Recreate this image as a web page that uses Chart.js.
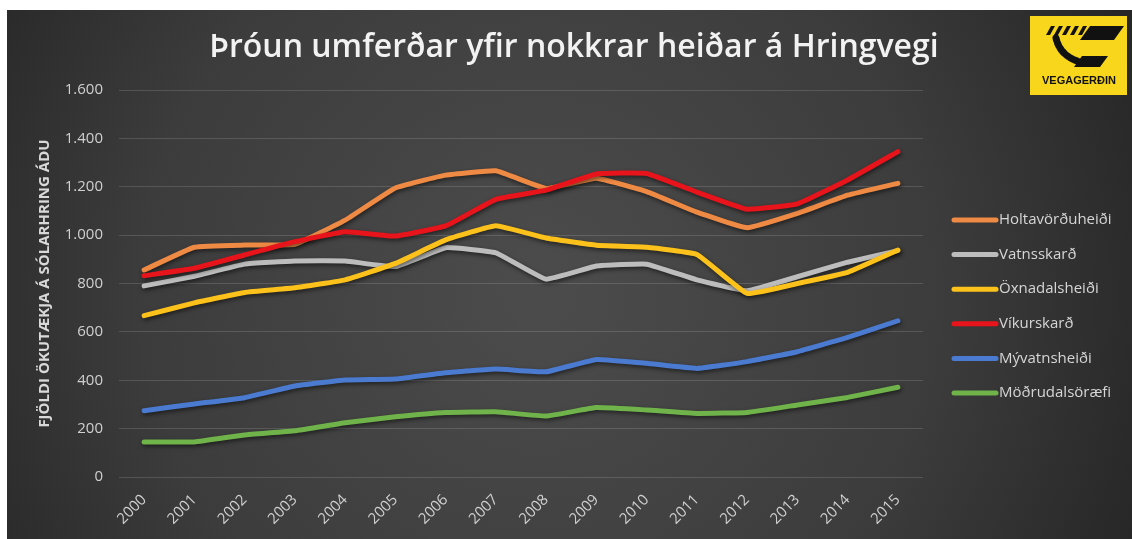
<!DOCTYPE html>
<html>
<head>
<meta charset="utf-8">
<script src="https://cdn.jsdelivr.net/npm/chart.js@4.4.1/dist/chart.umd.min.js"></script>
<style>
  html, body { margin: 0; padding: 0; background: #fff; }
  #wrap { width: 1132px; height: 539px; }
</style>
</head>
<body>
<div id="wrap"><canvas id="trafficChart" width="1132" height="539"></canvas></div>
<script>
const years = ["2000", "2001", "2002", "2003", "2004", "2005", "2006", "2007",
  "2008", "2009", "2010", "2011", "2012", "2013", "2014", "2015"];

// vehicles per day (ÁDU)
const holtavorduheidi = [856, 950, 959, 962, 1062, 1195, 1248, 1266, 1193, 1235, 1180, 1095, 1031, 1090, 1165, 1214];
const vatnsskard = [790, 830, 880, 893, 893, 870, 948, 927, 818, 872, 880, 815, 770, 828, 888, 936];
const oxnadalsheidi = [667, 720, 763, 782, 815, 883, 980, 1039, 988, 958, 950, 920, 759, 800, 846, 938];
const vikurskard = [832, 863, 918, 973, 1014, 996, 1038, 1148, 1186, 1253, 1255, 1178, 1107, 1129, 1228, 1345];
const myvatnsheidi = [274, 302, 328, 376, 401, 405, 431, 446, 435, 486, 470, 449, 477, 518, 577, 646];
const modrudalsoraefi = [145, 145, 174, 191, 224, 249, 267, 270, 252, 287, 277, 263, 267, 298, 329, 371];

const seriesNames = ["Holtavörðuheiði", "Vatnsskarð", "Öxnadalsheiði", "Víkurskarð", "Mývatnsheiði", "Möðrudalsöræfi"];
const seriesColors = ["#ef8a45", "#bdbdbd", "#fcc21b", "#e8141b", "#4a7bd0", "#6fb34a"];
const seriesValues = [holtavorduheidi, vatnsskard, oxnadalsheidi, vikurskard, myvatnsheidi, modrudalsoraefi];

const yTickLabels = ["0", "200", "400", "600", "800", "1.000", "1.200", "1.400", "1.600"];

const chartTitle = "Þróun umferðar yfir nokkrar heiðar á Hringvegi";
const yAxisTitle = "FJÖLDI ÖKUTÆKJA Á SÓLARHRING ÁDU";
const logoText = "VEGAGERÐIN";

// dark panel with lighter middle
const backgroundPlugin = {
  id: "panel",
  beforeDraw(chart) {
    const ctx = chart.ctx;
    ctx.save();
    ctx.fillStyle = "#ffffff";
    ctx.fillRect(0, 0, chart.width, chart.height);
    const g = ctx.createRadialGradient(540, 290, 30, 540, 290, 700);
    g.addColorStop(0, "#4b4b4b");
    g.addColorStop(0.55, "#3c3c3c");
    g.addColorStop(1, "#222222");
    ctx.fillStyle = g;
    ctx.fillRect(7, 10, chart.width - 7, chart.height - 10);
    ctx.restore();
  }
};

// drop shadow under the lines
const shadowPlugin = {
  id: "lineShadow",
  beforeDatasetDraw(chart) {
    const ctx = chart.ctx;
    ctx.save();
    ctx.shadowColor = "rgba(0,0,0,0.55)";
    ctx.shadowBlur = 4;
    ctx.shadowOffsetX = 1;
    ctx.shadowOffsetY = 2;
  },
  afterDatasetDraw(chart) {
    chart.ctx.restore();
  }
};

// legend on the right + logo
const sideLegendPlugin = {
  id: "sideLegend",
  afterDraw(chart) {
    const ctx = chart.ctx;
    ctx.save();
    chart.data.datasets.forEach((ds, i) => {
      const y = 220 + i * 34.6;
      ctx.strokeStyle = ds.borderColor;
      ctx.lineWidth = 5;
      ctx.lineCap = "round";
      ctx.beginPath();
      ctx.moveTo(954, y);
      ctx.lineTo(996, y);
      ctx.stroke();
      ctx.fillStyle = "#d6d6d6";
      ctx.font = "15px 'Open Sans'";
      ctx.textBaseline = "middle";
      ctx.textAlign = "left";
      ctx.fillText(ds.label, 999, y);
    });

    // Vegagerðin logo
    ctx.fillStyle = "#f8d61c";
    ctx.fillRect(1030, 16, 97, 79);
    ctx.fillStyle = "#111";
    const poly = (pts) => {
      ctx.beginPath();
      ctx.moveTo(pts[0][0], pts[0][1]);
      pts.slice(1).forEach(p => ctx.lineTo(p[0], p[1]));
      ctx.closePath();
      ctx.fill();
    };
    poly([[1090, 26], [1124, 26], [1114, 40], [1080, 40]]);
    for (let k = 0; k < 5; k++) {
      const x0 = 1046 + k * 8;
      poly([[x0 + 5, 26], [x0 + 9, 26], [x0 + 4, 35], [x0, 35]]);
    }
    ctx.strokeStyle = "#111";
    ctx.lineWidth = 7;
    ctx.setLineDash([3, 2]);
    ctx.beginPath();
    ctx.moveTo(1056, 38);
    ctx.quadraticCurveTo(1060, 56, 1080, 62);
    ctx.stroke();
    ctx.setLineDash([]);
    poly([[1082, 56], [1108, 56], [1100, 67], [1074, 67]]);
    ctx.font = "bold 11px 'Liberation Sans'";
    ctx.textAlign = "center";
    ctx.textBaseline = "middle";
    ctx.fillText(logoText, 1079, 81, 86);
    ctx.restore();
  }
};

new Chart(document.getElementById("trafficChart"), {
  type: "line",
  data: {
    labels: years,
    datasets: seriesValues.map((vals, i) => ({
      label: seriesNames[i],
      data: vals,
      borderColor: seriesColors[i],
      backgroundColor: seriesColors[i],
      borderWidth: 5,
      pointRadius: 0,
      tension: 0.1,
      borderCapStyle: "round",
      borderJoinStyle: "round",
      order: seriesValues.length - i
    }))
  },
  options: {
    responsive: false,
    animation: false,
    devicePixelRatio: 1,
    layout: { padding: { top: 10, left: 16, right: 0, bottom: 0 } },
    plugins: {
      legend: { display: false },
      tooltip: { enabled: false },
      title: {
        display: true,
        text: chartTitle,
        color: "#f2f2f2",
        font: { family: "'Open Sans'", size: 32, weight: "600" },
        padding: { top: 18.8, bottom: 22.8 }
      }
    },
    scales: {
      x: {
        offset: true,
        grid: { display: false, offset: true },
        border: { display: false },
        ticks: {
          color: "#d0d0d0",
          font: { family: "'Open Sans'", size: 15 },
          minRotation: 45,
          maxRotation: 45,
          autoSkip: false,
          padding: 6
        },
        afterFit(s) { s.height = 62; }
      },
      y: {
        min: 0,
        max: 1600,
        border: { display: false },
        grid: { color: "rgba(255,255,255,0.14)", lineWidth: 1, drawTicks: false },
        ticks: {
          stepSize: 200,
          color: "#d0d0d0",
          font: { family: "'Open Sans'", size: 15 },
          padding: 16,
          callback: (v, idx) => yTickLabels[idx]
        },
        title: {
          display: true,
          text: yAxisTitle,
          color: "#d9d9d9",
          font: { family: "'Open Sans'", size: 15, weight: "bold" },
          padding: { top: 20, bottom: 0 }
        },
        afterFit(s) { s.width = 103; }
      },
      spacer: {
        type: "linear",
        position: "right",
        display: true,
        grid: { display: false },
        border: { display: false },
        ticks: { display: false },
        afterFit(s) { s.width = 209; }
      }
    }
  },
  plugins: [backgroundPlugin, shadowPlugin, sideLegendPlugin]
});
</script>
</body>
</html>
